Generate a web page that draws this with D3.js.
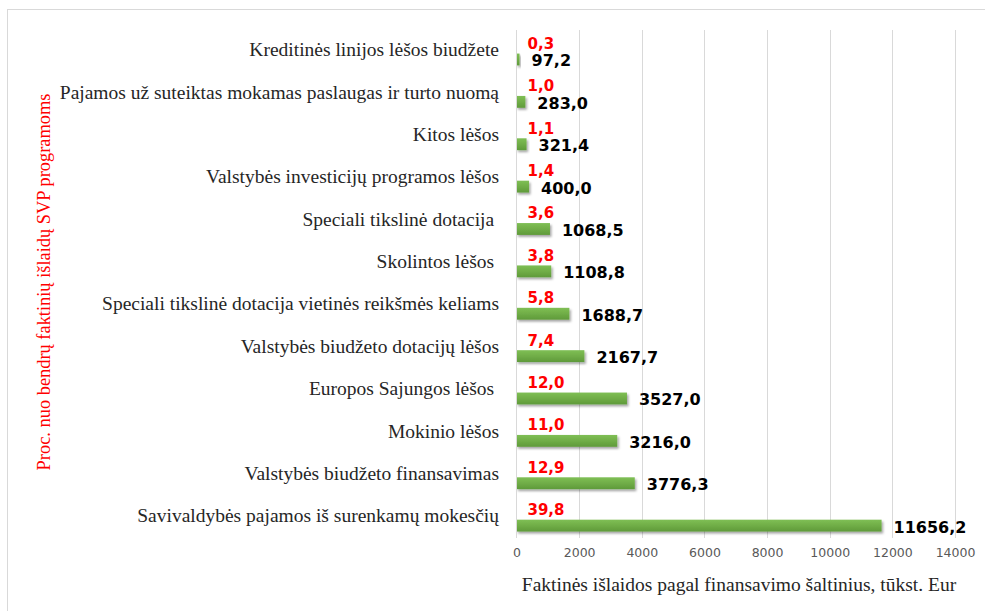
<!DOCTYPE html>
<html><head><meta charset="utf-8">
<script src="https://cdn.jsdelivr.net/npm/d3@7"></script>
<style>body{margin:0;background:#fff}svg{display:block}</style>
</head><body>
<script>
const categories = [
  "Kreditinės linijos lėšos biudžete",
  "Pajamos už suteiktas mokamas paslaugas ir turto nuomą",
  "Kitos lėšos",
  "Valstybės investicijų programos lėšos",
  "Speciali tikslinė dotacija\u00a0",
  "Skolintos lėšos\u00a0",
  "Speciali tikslinė dotacija vietinės reikšmės keliams",
  "Valstybės biudžeto dotacijų lėšos",
  "Europos Sajungos lėšos\u00a0",
  "Mokinio lėšos",
  "Valstybės biudžeto finansavimas",
  "Savivaldybės pajamos iš surenkamų mokesčių"
];
const values = [97.2, 283.0, 321.4, 400.0, 1068.5, 1108.8, 1688.7, 2167.7, 3527.0, 3216.0, 3776.3, 11656.2];
const percents = [0.3, 1.0, 1.1, 1.4, 3.6, 3.8, 5.8, 7.4, 12.0, 11.0, 12.9, 39.8];
const xTicks = [0, 2000, 4000, 6000, 8000, 10000, 12000, 14000];
const xTitle = "Faktinės išlaidos pagal finansavimo šaltinius, tūkst. Eur";
const yTitle = "Proc. nuo bendrų faktinių išlaidų SVP programoms";

const W = 985, H = 611;
const svg = d3.select("body").append("svg").attr("width", W).attr("height", H);
const defs = svg.append("defs");
const f = defs.append("filter").attr("id","sh").attr("x","-20%").attr("y","-50%").attr("width","150%").attr("height","250%");
f.append("feDropShadow").attr("dx",1.5).attr("dy",2).attr("stdDeviation",1.2).attr("flood-color","#000").attr("flood-opacity",0.35);
const g = defs.append("linearGradient").attr("id","gr").attr("x1",0).attr("y1",0).attr("x2",0).attr("y2",1);
g.append("stop").attr("offset","0%").attr("stop-color","#7fbf55");
g.append("stop").attr("offset","50%").attr("stop-color","#70ad47");
g.append("stop").attr("offset","100%").attr("stop-color","#5f9a3a");

svg.append("rect").attr("x",7.5).attr("y",9.5).attr("width",1000).attr("height",700)
  .attr("fill","#fff").attr("stroke","#d9d9d9");

const x = d3.scaleLinear().domain([0, 14000]).range([516.5, 955]);
const y = d3.scaleBand().domain(categories).range([38.3, 546.8]).paddingInner(0.72).paddingOuter(0.36);
const plotTop = 30, plotBot = 538;

// gridlines
svg.append("g").selectAll("line").data(xTicks.slice(1)).join("line")
  .attr("x1", d => Math.round(x(d))+0.5).attr("x2", d => Math.round(x(d))+0.5)
  .attr("y1", plotTop).attr("y2", plotBot).attr("stroke", "#d9d9d9").attr("stroke-width", 1);

// x axis tick labels
const xAxis = d3.axisBottom(x).tickValues(xTicks).tickSize(0).tickPadding(0).tickFormat(d => String(d));
const xa = svg.append("g").attr("transform", `translate(0,${plotBot+19})`).call(xAxis);
xa.select(".domain").remove();
xa.selectAll("text").attr("font-family","DejaVu Sans").attr("font-size","12.5px").attr("fill","#595959").attr("dy","0");

// bars
svg.append("g").selectAll("rect").data(values).join("rect")
  .attr("x", x(0)).attr("y", (d,i) => y(categories[i]))
  .attr("width", d => x(d) - x(0)).attr("height", y.bandwidth())
  .attr("fill", "url(#gr)").attr("filter","url(#sh)");

// y axis line
svg.append("line").attr("x1",516.5).attr("x2",516.5).attr("y1",plotTop).attr("y2",plotBot)
  .attr("stroke","#d9d9d9").attr("stroke-width",1);

// category labels
const yAxis = d3.axisLeft(y).tickSize(0).tickPadding(0);
const ya = svg.append("g").attr("transform","translate(499,-9.5)").call(yAxis);
ya.select(".domain").remove();
ya.selectAll("text").attr("font-family","Liberation Serif").attr("font-size","19.5px").attr("fill","#262626")
  .attr("style","white-space:pre");

// value labels
const cy = i => y(categories[i]) + y.bandwidth()/2;
svg.append("g").selectAll("text").data(values).join("text")
  .attr("x", d => x(d) + 12).attr("y", (d,i) => cy(i) + 7)
  .attr("font-family","DejaVu Sans").attr("font-weight","bold").attr("font-size","16px").attr("fill","#000")
  .text(d => d.toFixed(1).replace(".", ","));

// percent labels
svg.append("g").selectAll("text").data(percents).join("text")
  .attr("x", 527.5).attr("y", (d,i) => cy(i) - 10.5)
  .attr("font-family","DejaVu Sans").attr("font-weight","bold").attr("font-size","15px").attr("fill","#ff0000")
  .text(d => d.toFixed(1).replace(".", ","));

// titles
svg.append("text").attr("x", 739).attr("y", 591).attr("text-anchor","middle")
  .attr("font-family","Liberation Serif").attr("font-size","19.5px").attr("fill","#262626").text(xTitle);
svg.append("text").attr("transform","translate(49.5,282) rotate(-90)").attr("text-anchor","middle")
  .attr("font-family","Liberation Serif").attr("font-size","18.4px").attr("fill","#ff0000").text(yTitle);
</script>
</body></html>
